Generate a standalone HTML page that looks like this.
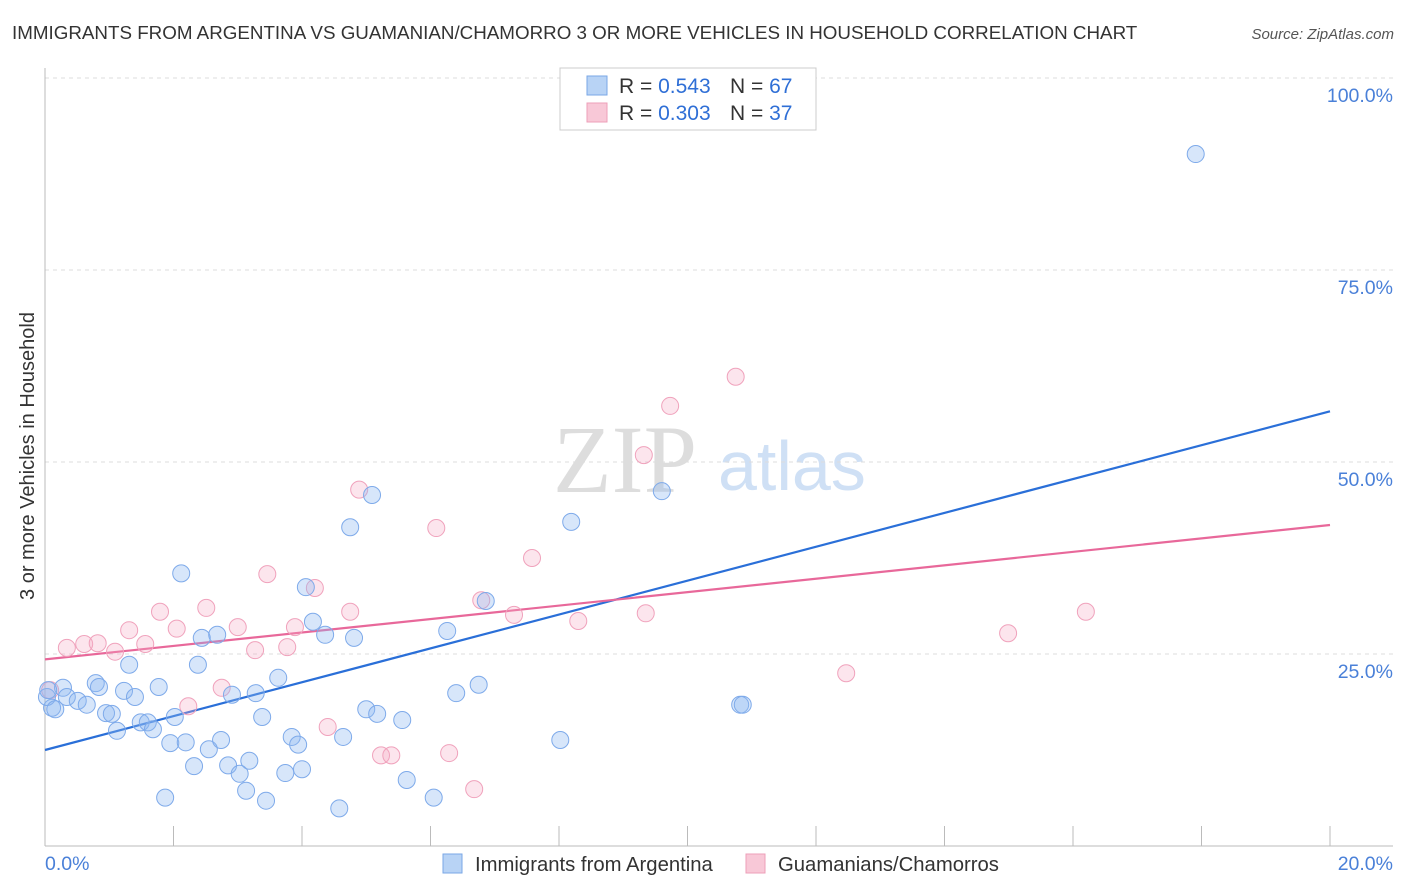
<!DOCTYPE html>
<html><head><meta charset="utf-8"><style>
body{margin:0;background:#fff;width:1406px;height:892px;overflow:hidden;font-family:"Liberation Sans",sans-serif;}
svg{display:block}
</style></head><body>
<svg id="chart" width="1406" height="892">
<text x="12" y="39" font-size="18.8" fill="#333">IMMIGRANTS FROM ARGENTINA VS GUAMANIAN/CHAMORRO 3 OR MORE VEHICLES IN HOUSEHOLD CORRELATION CHART</text>
<text x="1394" y="39" font-size="15" font-style="italic" fill="#555" text-anchor="end">Source: ZipAtlas.com</text>
<g>
<text x="553" y="492" font-family="Liberation Serif,serif" font-size="96" fill="#ddd">ZIP</text>
<text x="718" y="490" font-size="70" fill="#cfe0f5">atlas</text>
</g>
<text transform="translate(34,456) rotate(-90)" font-size="20" fill="#333" text-anchor="middle">3 or more Vehicles in Household</text>
<g id="grid"></g><g id="axes"></g><g id="trends"></g><g id="points"></g>
<g>
<rect x="560" y="68" width="256" height="62" fill="#fff" stroke="#ccc"/>
<rect x="587" y="76" width="20" height="19" fill="#b8d3f5" stroke="#7aa7e6"/>
<rect x="587" y="103" width="20" height="19" fill="#f8c8d7" stroke="#ee9fb8"/>
<text x="619" y="93" font-size="21" fill="#333">R = <tspan fill="#2f6fd6">0.543</tspan></text>
<text x="730" y="93" font-size="21" fill="#333">N = <tspan fill="#2f6fd6">67</tspan></text>
<text x="619" y="120" font-size="21" fill="#333">R = <tspan fill="#2f6fd6">0.303</tspan></text>
<text x="730" y="120" font-size="21" fill="#333">N = <tspan fill="#2f6fd6">37</tspan></text>
</g>
<g>
<rect x="443" y="854" width="19" height="19" fill="#b8d3f5" stroke="#7aa7e6"/>
<text x="475" y="871" font-size="20.3" fill="#333">Immigrants from Argentina</text>
<rect x="746" y="854" width="19" height="19" fill="#f8c8d7" stroke="#ee9fb8"/>
<text x="778" y="871" font-size="20.3" fill="#333">Guamanians/Chamorros</text>
</g>
</svg>
<script>
const blueX=[17.91,5.09,4.75,8.19,9.60,2.12,4.06,6.86,4.17,4.36,4.81,6.26,2.44,2.68,2.38,1.31,1.77,0.79,0.84,1.23,1.40,0.28,0.34,0.51,0.65,0.11,0.03,0.95,1.04,1.12,1.49,1.60,1.68,2.02,2.91,3.28,3.63,3.38,5.00,5.17,5.56,6.40,6.75,10.82,10.86,1.95,2.19,2.55,2.74,2.32,2.85,3.03,3.18,3.13,3.44,3.84,3.94,3.74,4.00,4.64,5.63,6.05,4.58,8.02,1.87,0.05,0.16];
const blueY=[90.1,45.7,41.5,42.2,46.2,35.5,33.7,31.9,29.2,27.5,27.1,28.0,27.1,27.5,23.6,23.6,20.7,21.2,20.7,20.2,19.4,20.6,19.4,18.9,18.4,18.0,19.4,17.3,17.2,15.0,16.1,16.1,15.2,16.8,19.7,19.9,21.9,16.8,17.8,17.2,16.4,19.9,21.0,18.4,18.4,13.4,13.5,12.6,13.8,10.4,10.5,9.4,11.1,7.2,5.9,14.2,13.2,9.5,10.0,14.2,8.6,6.3,4.9,13.8,6.3,20.3,17.8];
const pinkX=[10.75,9.73,9.32,4.89,6.09,7.58,3.46,4.20,6.79,2.51,4.75,1.79,7.30,9.35,8.30,16.20,14.99,1.31,2.05,3.00,3.89,0.34,0.61,0.82,1.56,1.09,3.27,3.77,2.75,2.23,12.47,4.40,5.23,5.39,6.29,6.68,0.08];
const pinkY=[61.1,57.3,50.9,46.4,41.4,37.5,35.4,33.6,32.0,31.0,30.5,30.5,30.1,30.3,29.3,30.5,27.7,28.1,28.3,28.5,28.5,25.8,26.3,26.4,26.3,25.3,25.5,25.9,20.6,18.2,22.5,15.5,11.8,11.8,12.1,7.4,20.3];
const blueTrend=[12.5,56.6];
const pinkTrend=[24.3,41.8];
const yTicks=[25,50,75,100];
const xTicks=[0,2,4,6,8,10,12,14,16,18,20];
const NS='http://www.w3.org/2000/svg';
const sx=v=>45+v*(1285/20);
const sy=v=>846-v*7.68;
function mk(tag,attrs,parent){const e=document.createElementNS(NS,tag);for(const k in attrs)e.setAttribute(k,attrs[k]);document.getElementById(parent).appendChild(e);return e;}
yTicks.forEach(t=>{
 const l=mk('line',{x1:45,x2:1393,y1:sy(t),y2:sy(t),stroke:'#ddd','stroke-dasharray':'4,4'},'grid');
 
 
 const tx=mk('text',{x:1393,y:sy(t)+24,'font-size':19.5,fill:'#4a80d8','text-anchor':'end'},'grid');
 tx.textContent=t.toFixed(1)+'%';
 
 
});
const ax=mk('line',{x1:45,x2:45,y1:68,y2:846,stroke:'#bbb'},'axes');


const bx=mk('line',{x1:45,x2:1393,y1:846,y2:846,stroke:'#bbb'},'axes');


xTicks.forEach(t=>{
 const l=mk('line',{x1:sx(t),x2:sx(t),y1:826,y2:846,stroke:'#bbb'},'axes');
 
 
});
[[0,'start',45],[20,'end',1393]].forEach(([t,a,x])=>{
 const tx=mk('text',{x:x,y:870,'font-size':19.5,fill:'#4a80d8','text-anchor':a},'axes');
 tx.textContent=t.toFixed(1)+'%';
 
 
});
function pts(X,Y,fill,stroke,name){
 X.forEach((x,i)=>{
  const c=mk('circle',{cx:sx(x),cy:sy(Y[i]),r:8.5,fill:fill,stroke:stroke,'stroke-width':1},'points');
  
  
 });
}
pts(pinkX,pinkY,'rgba(246,170,196,0.3)','#f0a2bc','guamanian-point');
pts(blueX,blueY,'rgba(140,182,240,0.35)','#7eaaea','argentina-point');
const tb=mk('line',{x1:sx(0),y1:sy(blueTrend[0]),x2:sx(20),y2:sy(blueTrend[1]),stroke:'#2a6fd8','stroke-width':2.2},'trends');


const tp=mk('line',{x1:sx(0),y1:sy(pinkTrend[0]),x2:sx(20),y2:sy(pinkTrend[1]),stroke:'#e8689a','stroke-width':2.2},'trends');


</script>
</body></html>
